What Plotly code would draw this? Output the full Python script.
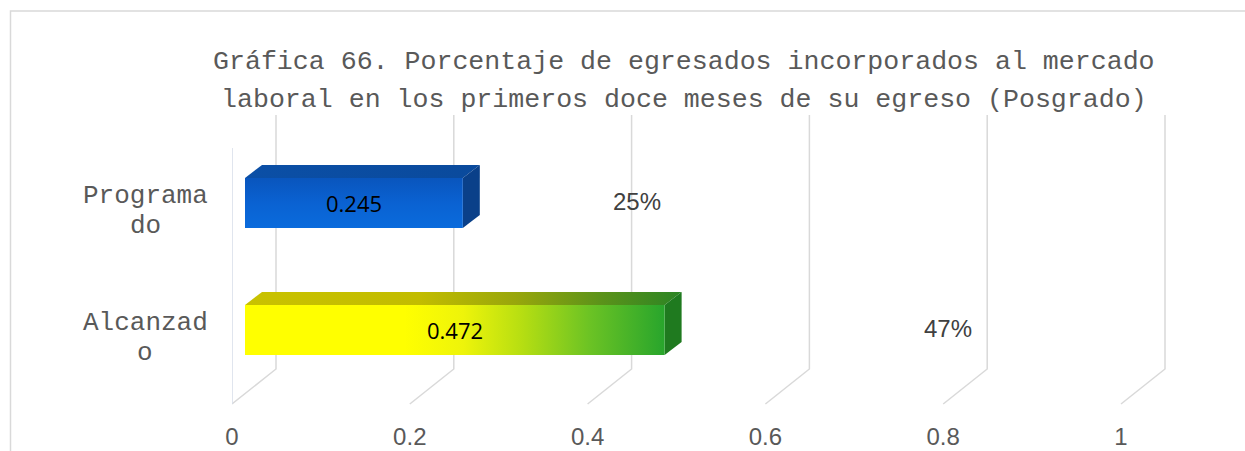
from decimal import Decimal, ROUND_HALF_UP

import plotly.graph_objects as go

# ---- data ---------------------------------------------------------------
categories = ["Programado", "Alcanzado"]
values = [0.245, 0.472]
x_ticks = [0, 0.2, 0.4, 0.6, 0.8, 1]
x_tick_labels = ["0", "0.2", "0.4", "0.6", "0.8", "1"]
title_lines = [
    "Gráfica 66. Porcentaje de egresados incorporados al mercado",
    "laboral en los primeros doce meses de su egreso (Posgrado)",
]

# ---- page / plot-area geometry (pixels) -----------------------------------
W, H = 1245, 451
ML, MR, MT, MB = 232, 20, 115, 47
PW = W - ML - MR
PH = H - MT - MB
PX_PER_UNIT = 889                 # horizontal pixels per unit of value
X_MAX = PW / PX_PER_UNIT
ROW_PX = 127                      # vertical pixels between category rows
FIRST_ROW_PX = 88                 # plot top -> centre of first bar face
Y_TOP = -FIRST_ROW_PX / ROW_PX
Y_BOT = Y_TOP + PH / ROW_PX

# pseudo-3D depth
FLOOR_DX, FLOOR_DY = 44, 35       # floor depth (front edge -> back wall)
FACE_SHIFT = 13                   # bar front face sits this far into depth
BAR_DX, BAR_DY = 17, 13           # bar thickness in depth
BAR_HALF = 25                     # half height of the bar front face

GRID = "#d9d9d9"
TEXT = "#595959"
MONO = "Liberation Mono, Courier New, monospace"
SANS = "Liberation Sans, Arial, sans-serif"

face_styles = [
    dict(  # Programado - blue
        front=dict(type="vertical",
                   colorscale=[[0, "#0a6bdc"], [0.5, "#0a62d2"], [1, "#0955bd"]]),
        top=dict(type="horizontal",
                 colorscale=[[0, "#0b4fa6"], [1, "#0a4a9c"]]),
        side="#0a4089",
    ),
    dict(  # Alcanzado - yellow to green
        front=dict(type="horizontal",
                   colorscale=[[0, "#ffff00"], [0.38, "#ffff00"], [0.52, "#eef40a"],
                               [0.66, "#b6de12"], [0.82, "#6cc324"], [1, "#28a52c"]]),
        top=dict(type="horizontal",
                 colorscale=[[0, "#c9c200"], [0.4, "#c2bc00"], [0.62, "#98a60c"],
                             [0.82, "#5a921a"], [1, "#2b8424"]]),
        side="#1f7a1f",
    ),
]


def px_x(p):
    return p / PX_PER_UNIT


def px_y(p):
    return p / ROW_PX


def pct(v):
    return f"{(Decimal(str(v)) * 100).quantize(Decimal('1'), rounding=ROUND_HALF_UP)}%"


fig = go.Figure()

# ---- bars as front / top / side faces --------------------------------------
for i, (v, st) in enumerate(zip(values, face_styles)):
    a = px_x(FACE_SHIFT)
    b = v + a
    top = i - px_y(BAR_HALF)
    bot = i + px_y(BAR_HALF)
    dx, dy = px_x(BAR_DX), px_y(BAR_DY)

    common = dict(mode="lines", fill="toself", line=dict(width=0),
                  hoverinfo="skip", showlegend=False)
    fig.add_trace(go.Scatter(x=[a, b, b + dx, a + dx, a],
                             y=[top, top, top - dy, top - dy, top],
                             fillgradient=st["top"], **common))
    fig.add_trace(go.Scatter(x=[b, b + dx, b + dx, b, b],
                             y=[top, top - dy, bot - dy, bot, top],
                             fillcolor=st["side"], **common))
    fig.add_trace(go.Scatter(x=[a, b, b, a, a],
                             y=[top, top, bot, bot, top],
                             fillgradient=st["front"], **common))

    # value inside the bar
    fig.add_annotation(x=(a + b) / 2, y=i, xref="x", yref="y", text=f"{v:g}",
                       showarrow=False, font=dict(family="Open Sans, sans-serif",
                                                  size=22, color="#000000"))

# percentage labels
PCT_LABEL_X = [0.456, 0.805]
for i, (v, lx) in enumerate(zip(values, PCT_LABEL_X)):
    fig.add_annotation(x=lx, y=i, xref="x", yref="y", text=pct(v), yshift=2,
                       showarrow=False, font=dict(family=SANS, size=24, color="#404040"))

# ---- floor / back-wall grid -------------------------------------------------
shapes = []
for t in x_ticks:
    shapes.append(dict(
        type="path", layer="below", xref="x", yref="paper",
        xsizemode="pixel", ysizemode="pixel", xanchor=t, yanchor=0,
        path=f"M0,0 L{FLOOR_DX},{FLOOR_DY} L{FLOOR_DX},{PH}",
        line=dict(color=GRID, width=1.5)))
# front edge of the side wall
shapes.append(dict(
    type="path", layer="below", xref="x", yref="paper",
    xsizemode="pixel", ysizemode="pixel", xanchor=0, yanchor=0,
    path=f"M0,0 L0,{PH - FLOOR_DY + 2}",
    line=dict(color="#d6dde8", width=1.5)))

# chart frame (left and top edges)
shapes.append(dict(
    type="path", xref="paper", yref="paper", xsizemode="pixel", ysizemode="pixel",
    xanchor=0, yanchor=0,
    path=f"M{10.5 - ML},{-MB} L{10.5 - ML},{H - MB - 11} L{W - ML},{H - MB - 11}",
    line=dict(color="#d9d9d9", width=1.5)))

fig.update_layout(shapes=shapes)

# ---- category labels (wrapped, centred) ------------------------------------
CAT_X = 145
WRAP = 8
for i, name in enumerate(categories):
    chunks = [name[k:k + WRAP] for k in range(0, len(name), WRAP)]
    n = len(chunks)
    for k, chunk in enumerate(chunks):
        fig.add_annotation(x=(CAT_X - ML) / PW, xref="paper", y=i, yref="y",
                           text=chunk, showarrow=False, xanchor="center",
                           yshift=-(8 + (k - (n - 1) / 2) * 30),
                           font=dict(family=MONO, size=26, color=TEXT))

# ---- title (two lines) -------------------------------------------------------
TITLE_X = 684
for k, (line, cy) in enumerate(zip(title_lines, [62, 100])):
    fig.add_annotation(x=(TITLE_X - ML) / PW, xref="paper", y=1, yref="paper",
                       yshift=MT - cy, yanchor="middle", xanchor="center",
                       text=line, showarrow=False,
                       font=dict(family=MONO, size=26.6, color=TEXT))

fig.update_layout(
    width=W, height=H,
    margin=dict(l=ML, r=MR, t=MT, b=MB, pad=0, autoexpand=False),
    paper_bgcolor="#ffffff", plot_bgcolor="rgba(0,0,0,0)",
    showlegend=False,
    xaxis=dict(range=[0, X_MAX], tickvals=x_ticks, ticktext=x_tick_labels,
               showgrid=False, zeroline=False, showline=False, ticks="",
               ticklabelstandoff=16, automargin=False,
               tickfont=dict(family=SANS, size=24, color=TEXT), fixedrange=True),
    yaxis=dict(range=[Y_BOT, Y_TOP], visible=False, fixedrange=True,
               automargin=False),
)

fig.write_html("out.html", config=dict(displayModeBar=False))
